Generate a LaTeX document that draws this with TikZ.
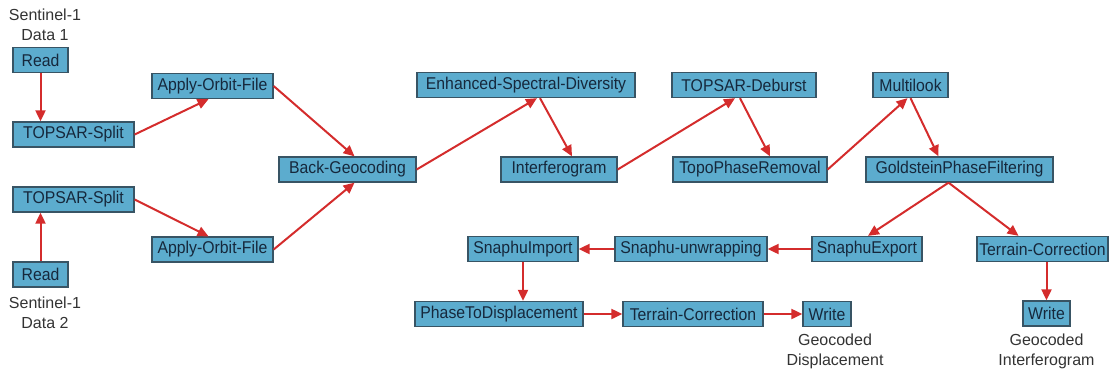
\documentclass[tikz,border=0pt]{standalone}
\usepackage{fontspec}
\setmainfont{Liberation Sans}
\usetikzlibrary{arrows.meta}
\definecolor{boxfill}{RGB}{92,172,206}
\definecolor{boxline}{RGB}{56,84,100}
\definecolor{boxtext}{RGB}{22,40,60}
\definecolor{flow}{RGB}{212,44,44}
\newcommand{\tallbox}[1]{\scalebox{1}[1.08]{#1}}
\tikzset{
  opbox/.style={draw=boxline, line width=1.3pt, fill=boxfill, text=boxtext,
    minimum height=25pt, inner sep=0pt, font=\fontsize{15.8}{17}\selectfont},
  caption/.style={align=center, text=black!80, font=\fontsize{16}{20}\selectfont, inner sep=0pt},
  flowarrow/.style={draw=flow, line width=2pt, -{Triangle[length=11pt,width=10pt]}}
}
\begin{document}
\begin{tikzpicture}[x=1pt,y=-1pt]
\useasboundingbox (0,0) rectangle (1116,373);
% left branch: two Sentinel-1 inputs
\node[caption] (cap1) at (45,25) {Sentinel-1\\Data 1};
\node[opbox, minimum width=55pt] (read1) at (40.5,60) {\tallbox{Read}};
\node[opbox, minimum width=121pt] (split1) at (73.5,134.5) {\tallbox{TOPSAR-Split}};
\node[opbox, minimum width=121pt] (orbit1) at (212.5,86) {\tallbox{Apply-Orbit-File}};
\node[opbox, minimum width=121pt] (split2) at (73.5,199.5) {\tallbox{TOPSAR-Split}};
\node[opbox, minimum width=55pt] (read2) at (40.5,274.5) {\tallbox{Read}};
\node[caption] (cap2) at (45,313) {Sentinel-1\\Data 2};
\node[opbox, minimum width=121pt] (orbit2) at (212.5,249.5) {\tallbox{Apply-Orbit-File}};
% interferometric chain
\node[opbox, minimum width=137pt] (geo) at (347.5,169.5) {\tallbox{Back-Geocoding}};
\node[opbox, minimum width=218pt] (esd) at (526,85) {\tallbox{Enhanced-Spectral-Diversity}};
\node[opbox, minimum width=116pt] (ifg) at (559,169.5) {\tallbox{Interferogram}};
\node[opbox, minimum width=144pt] (deb) at (744,85) {\tallbox{TOPSAR-Deburst}};
\node[opbox, minimum width=154pt] (topo) at (750,169.5) {\tallbox{TopoPhaseRemoval}};
\node[opbox, minimum width=75pt] (ml) at (910.5,85) {\tallbox{Multilook}};
\node[opbox, minimum width=187pt] (gold) at (959.5,169.5) {\tallbox{GoldsteinPhaseFiltering}};
% unwrapping and geocoding
\node[opbox, minimum width=110pt] (simp) at (523,249) {\tallbox{SnaphuImport}};
\node[opbox, minimum width=152pt] (unw) at (691,249) {\tallbox{Snaphu-unwrapping}};
\node[opbox, minimum width=110pt] (sexp) at (867,249) {\tallbox{SnaphuExport}};
\node[opbox, minimum width=131pt] (tc2) at (1042.5,249) {\tallbox{Terrain-Correction}};
\node[opbox, minimum width=47pt] (w2) at (1046.5,313.5) {\tallbox{Write}};
\node[caption] (cap4) at (1046.5,351) {Geocoded\\Interferogram};
\node[opbox, minimum width=168pt] (ptd) at (499,314) {\tallbox{PhaseToDisplacement}};
\node[opbox, minimum width=140pt] (tc1) at (693,314) {\tallbox{Terrain-Correction}};
\node[opbox, minimum width=48pt] (w1) at (827,314) {\tallbox{Write}};
\node[caption] (cap3) at (835,351) {Geocoded\\Displacement};
% connectors
\draw[flowarrow] (read1.south) -- (read1.south |- split1.north);
\draw[flowarrow] (read2.north) -- (read2.north |- split2.south);
\draw[flowarrow] (split1.east) -- ([xshift=-4pt]orbit1.south);
\draw[flowarrow] (split2.east) -- ([xshift=-4pt]orbit2.north);
\draw[flowarrow] (orbit1.east) -- ([xshift=7pt]geo.north);
\draw[flowarrow] (orbit2.east) -- ([xshift=7pt]geo.south);
\draw[flowarrow] (geo.east) -- ([xshift=11pt]esd.south);
\draw[flowarrow] ([xshift=14pt]esd.south) -- ([xshift=13pt]ifg.north);
\draw[flowarrow] (ifg.east) -- ([xshift=-9pt]deb.south);
\draw[flowarrow] ([xshift=-4pt]deb.south) -- ([xshift=20pt]topo.north);
\draw[flowarrow] (topo.east) -- ([xshift=-3pt]ml.south);
\draw[flowarrow] (ml.south) -- ([xshift=-21pt]gold.north);
\draw[flowarrow] ([xshift=-11pt]gold.south) -- ([xshift=1pt]sexp.north);
\draw[flowarrow] ([xshift=-11pt]gold.south) -- ([xshift=-24pt]tc2.north);
\draw[flowarrow] (sexp.west) -- (unw.east);
\draw[flowarrow] (unw.west) -- (simp.east);
\draw[flowarrow] (simp.south) -- (simp.south |- ptd.north);
\draw[flowarrow] (ptd.east) -- (tc1.west);
\draw[flowarrow] (tc1.east) -- (w1.west);
\draw[flowarrow] ([xshift=4pt]tc2.south) -- ([xshift=4pt]tc2.south |- w2.north);
\end{tikzpicture}
\end{document}
